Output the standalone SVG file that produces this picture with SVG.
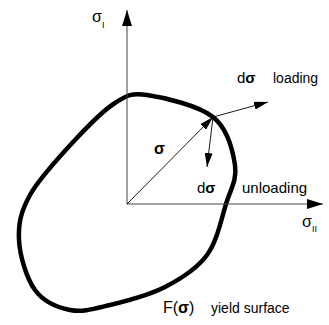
<svg xmlns="http://www.w3.org/2000/svg" width="329" height="325" viewBox="0 0 329 325">
<style>
text{font-family:"Liberation Sans",Arial,sans-serif;fill:#000}
.b{font-weight:bold}
.axis{stroke:#444;stroke-width:1;fill:none}
.vec{stroke:#000;stroke-width:0.9;fill:none}
.surf{stroke:#000;stroke-width:4.5;fill:none}
</style>
<defs>
<marker id="ah" markerUnits="userSpaceOnUse" markerWidth="16" markerHeight="10" refX="16" refY="5" orient="auto"><path d="M0,0 L16,5 L0,10 Z" fill="#000"/></marker>
<marker id="vh" markerUnits="userSpaceOnUse" markerWidth="14" markerHeight="8" refX="14" refY="4" orient="auto"><path d="M0,0 L14,4 L0,8 Z" fill="#000"/></marker>
</defs>
<g id="surface">
<path class="surf" d="M147,95 C163.3,97.3 198.3,105.3 213,117 C227.7,128.7 232.8,150.5 235,165 C237.2,179.5 230.7,189 226,204 C221.3,219 217.2,241.2 207,255 C196.8,268.8 181.2,278.7 165,287 C148.8,295.3 125.8,301.2 110,305 C94.2,308.8 82.5,312.5 70,310 C57.5,307.5 43.5,301.7 35,290 C26.5,278.3 19.8,255.8 19,240 C18.2,224.2 20.7,211.7 30,195 C39.3,178.3 60.8,155.3 75,140 C89.2,124.7 103,110.5 115,103 C127,95.5 130.7,92.7 147,95 Z"/>
<text x="163" y="313" font-size="16">F(<tspan class="b">σ</tspan>)</text>
<text x="211" y="313" font-size="14">yield surface</text>
</g>
<g id="connectors">
<line id="axis-I" class="axis" x1="127" y1="204" x2="127" y2="10" marker-end="url(#ah)"/>
<line id="axis-II" class="axis" x1="127" y1="204" x2="323" y2="204" marker-end="url(#ah)"/>
<line id="vec-sigma" class="vec" x1="127" y1="204" x2="213" y2="117" marker-end="url(#vh)"/>
<line id="vec-loading" class="vec" x1="213" y1="117" x2="268" y2="102" marker-end="url(#vh)"/>
<line id="vec-unloading" class="vec" x1="213" y1="117" x2="207" y2="167" marker-end="url(#vh)"/>
</g>
<g id="label-sigma-I">
<text x="92" y="22" font-size="16">σ</text>
<text x="102" y="28" font-size="9">I</text>
</g>
<g id="label-sigma-II">
<text x="302" y="227" font-size="16">σ</text>
<text x="312" y="232" font-size="9">II</text>
</g>
<g id="label-sigma">
<text x="154" y="154" font-size="16" class="b">σ</text>
</g>
<g id="label-loading">
<text x="237" y="83" font-size="15">d<tspan class="b">σ</tspan></text>
<text x="273" y="83" font-size="14">loading</text>
</g>
<g id="label-unloading">
<text x="197" y="193" font-size="15">d<tspan class="b">σ</tspan></text>
<text x="242" y="193" font-size="15">unloading</text>
</g>
</svg>
